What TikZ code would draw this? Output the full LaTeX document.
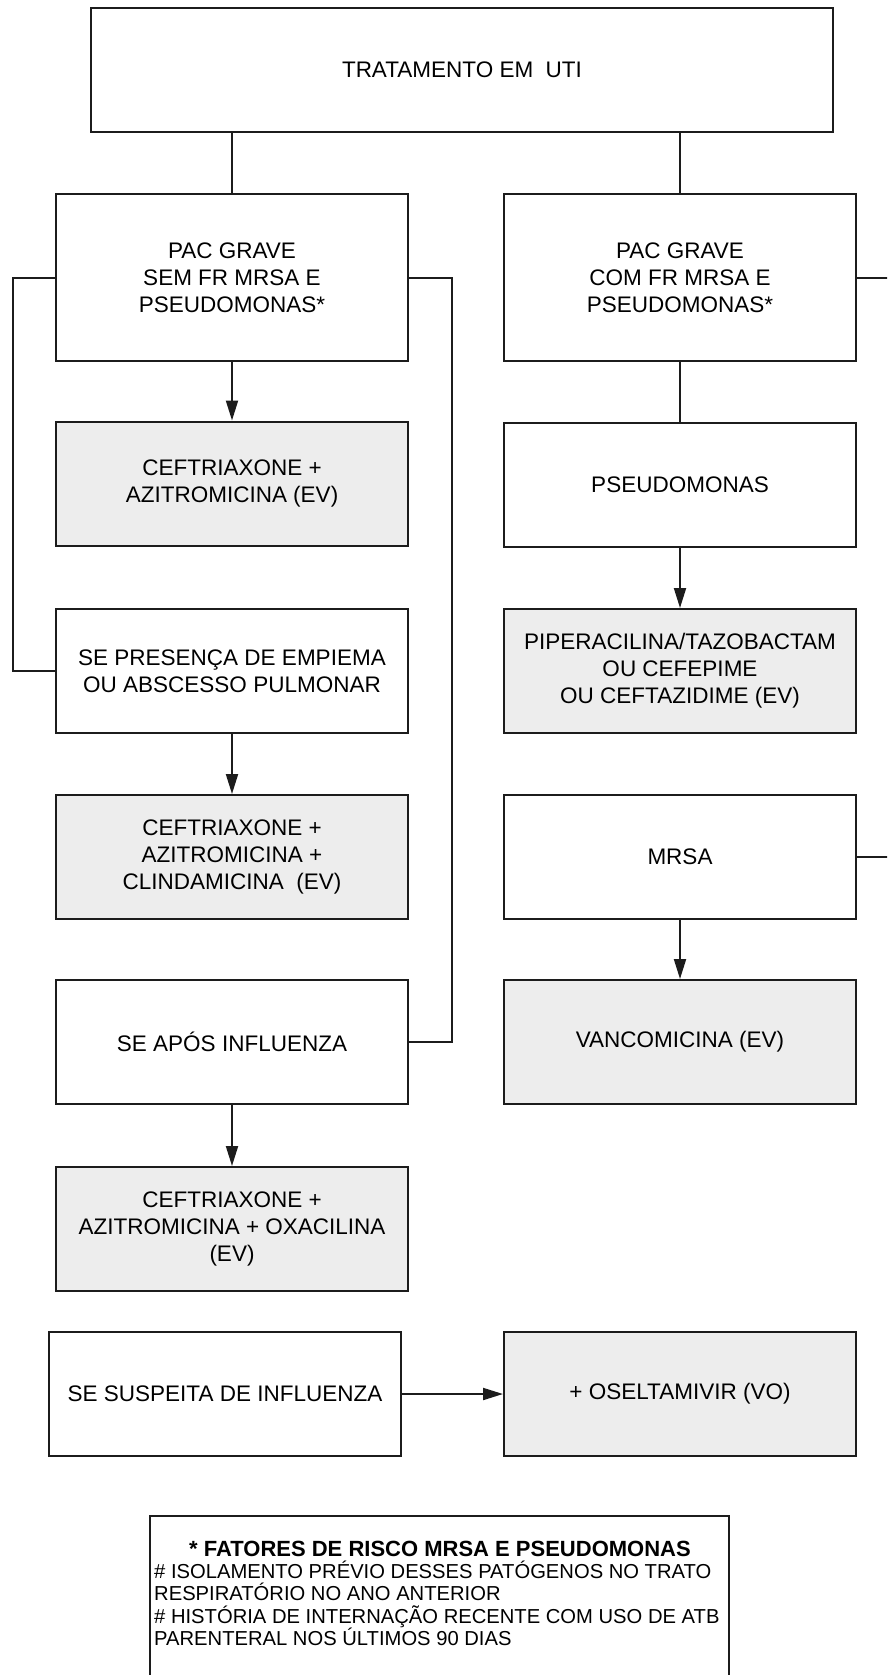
\documentclass[tikz,border=0pt]{standalone}
\usepackage{fontspec}
\setmainfont{Liberation Sans}
\usetikzlibrary{arrows.meta}
\definecolor{boxgray}{HTML}{EDEDED}
\definecolor{ink}{HTML}{1C1C1C}
\begin{document}
\begin{tikzpicture}[x=1pt,y=-1pt,
  box/.style={draw=ink, line width=2pt, fill=white, minimum width=352pt,
    minimum height=124pt, inner sep=0pt, align=center,
    font=\fontsize{22.5}{27}\selectfont},
  tall/.style={box, minimum height=167pt},
  drug/.style={box, fill=boxgray},
  link/.style={draw=ink, line width=2pt},
  arr/.style={link, -{Triangle[length=20pt,width=12pt]}},
  legendline/.style={anchor=base west, inner sep=0pt, font=\fontsize{20.2}{22.5}\selectfont}]
\useasboundingbox (0,0) rectangle (887,1675);
\clip (0,0) rectangle (887,1675);

% top level
\node[box, minimum width=742pt] (trat) at (462,70) {TRATAMENTO EM\ \ UTI};

% left column: no risk factors
\node[tall] (pacsem) at (232,277.5) {PAC GRAVE\\SEM FR MRSA E\\PSEUDOMONAS*};
\node[drug] (ceft) at (232,483.5) {CEFTRIAXONE +\\AZITROMICINA (EV)};
\node[box] (empiema) at (232,671) {SE PRESENÇA DE EMPIEMA\\OU ABSCESSO PULMONAR};
\node[drug] (clinda) at (232,857) {CEFTRIAXONE +\\AZITROMICINA +\\CLINDAMICINA\ \ (EV)};
\node[box] (influ) at (232,1042) {SE APÓS INFLUENZA};
\node[drug] (oxa) at (232,1229) {CEFTRIAXONE +\\AZITROMICINA + OXACILINA\\(EV)};

% right column: with risk factors
\node[tall] (paccom) at (680,277.5) {PAC GRAVE\\COM FR MRSA E\\PSEUDOMONAS*};
\node[box] (pseudo) at (680,485) {PSEUDOMONAS};
\node[drug] (pip) at (680,671) {PIPERACILINA/TAZOBACTAM\\OU CEFEPIME\\OU CEFTAZIDIME (EV)};
\node[box] (mrsa) at (680,857) {MRSA};
\node[drug] (vanco) at (680,1042) {VANCOMICINA (EV)};

% influenza row
\node[box] (suspeita) at (225,1394) {SE SUSPEITA DE INFLUENZA};
\node[drug] (osel) at (680,1394) {+ OSELTAMIVIR (VO)};

% risk factor legend
\node[draw=ink, line width=2pt, minimum width=579pt, minimum height=220pt,
  anchor=north west, inner sep=0pt] (legenda) at (148.5,1515) {};
\node[anchor=base, inner sep=0pt, font=\fontsize{22}{24}\selectfont\bfseries]
  (legtitulo) at (440,1556) {* FATORES DE RISCO MRSA E PSEUDOMONAS};
\node[legendline] (leg1) at (154,1578) {\# ISOLAMENTO PRÉVIO DESSES PATÓGENOS NO TRATO};
\node[legendline] (leg2) at (154,1600.5) {RESPIRATÓRIO NO ANO ANTERIOR};
\node[legendline] (leg3) at (154,1623) {\# HISTÓRIA DE INTERNAÇÃO RECENTE COM USO DE ATB};
\node[legendline] (leg4) at (154,1645.5) {PARENTERAL NOS ÚLTIMOS 90 DIAS};

% connectors
\draw[link] (trat.south -| pacsem) -- (pacsem.north);
\draw[link] (trat.south -| paccom) -- (paccom.north);
\draw[arr] (pacsem.south) -- (ceft.north);
\draw[arr] (empiema.south) -- (clinda.north);
\draw[arr] (influ.south) -- (oxa.north);
\draw[link] (pacsem.west) -- ++(-42,0) |- (empiema.west);
\draw[link] (pacsem.east) -- ++(43,0) |- (influ.east);
\draw[link] (paccom.south) -- (pseudo.north);
\draw[arr] (pseudo.south) -- (pip.north);
\draw[arr] (mrsa.south) -- (vanco.north);
\draw[link] (paccom.east) -- ++(60,0) |- (mrsa.east);
\draw[arr] (suspeita.east) -- (osel.west);
\end{tikzpicture}
\end{document}
